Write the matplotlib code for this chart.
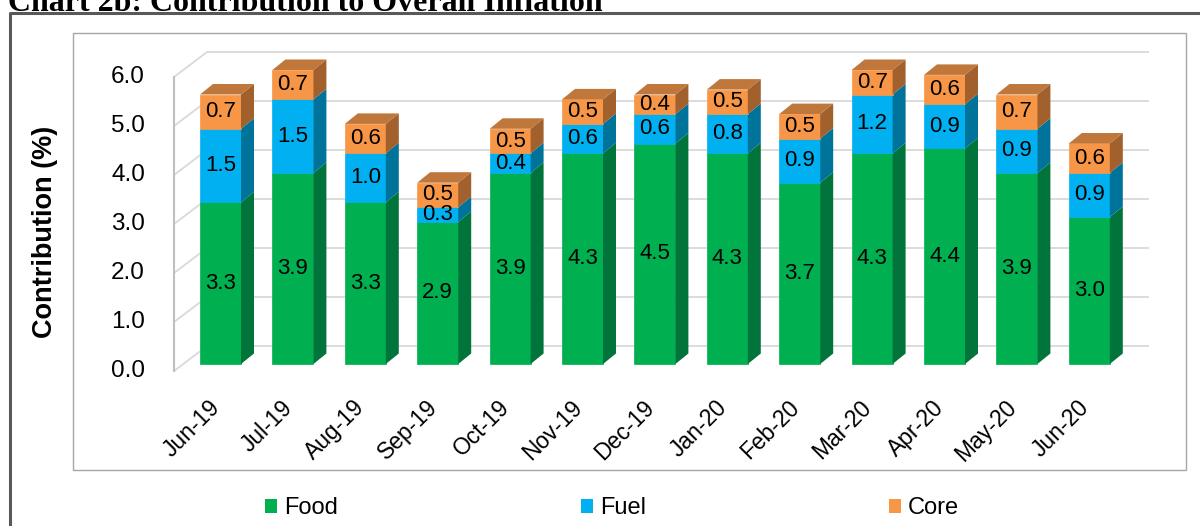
import numpy as np
import matplotlib.pyplot as plt
from matplotlib.patches import Patch, Rectangle
from matplotlib.lines import Line2D

# values (contribution in percentage points)
months = ['Jun-19', 'Jul-19', 'Aug-19', 'Sep-19', 'Oct-19', 'Nov-19', 'Dec-19',
          'Jan-20', 'Feb-20', 'Mar-20', 'Apr-20', 'May-20', 'Jun-20']
food = [3.3, 3.9, 3.3, 2.9, 3.9, 4.3, 4.5, 4.3, 3.7, 4.3, 4.4, 3.9, 3.0]
fuel = [1.5, 1.5, 1.0, 0.3, 0.4, 0.6, 0.6, 0.8, 0.9, 1.2, 0.9, 0.9, 0.9]
core = [0.7, 0.7, 0.6, 0.5, 0.5, 0.5, 0.4, 0.5, 0.5, 0.7, 0.6, 0.7, 0.6]
y_ticks = [0.0, 1.0, 2.0, 3.0, 4.0, 5.0, 6.0]

# (label, values, front, top, side)
series = [
    ('Food', food, '#00B050', '#00963F', '#00743A'),
    ('Fuel', fuel, '#00B0F0', '#0090C4', '#00739A'),
    ('Core', core, '#F79646', '#BF773B', '#A2602C'),
]

plt.rcParams['font.family'] = ['Liberation Sans', 'DejaVu Sans']

W, H = 1200, 526
fig = plt.figure(figsize=(W / 100, H / 100), dpi=100)

# one axes over the whole figure, scaled so 1 category = 72.4 px, 1 % = 49 px
SX, SY = 72.4, 49.0
X0, Y0 = 220.5, 364.0
ax = fig.add_axes([0, 0, 1, 1])
ax.set_xlim(-X0 / SX, (W - X0) / SX)
ax.set_ylim((Y0 - H) / SY, Y0 / SY)
ax.axis('off')

ymax = y_ticks[-1]
x = np.arange(len(months))

# fake 3d walls (oblique projection)
front_dx, front_dy = -9 / SX, -7 / SY
back_dx, back_dy = 24 / SX, 18 / SY
wall_left = (183 - X0) / SX
wall_right = (1125 - X0) / SX

for v in y_ticks:
    ax.plot([wall_left + front_dx, wall_left + back_dx, wall_right + back_dx],
            [v + front_dy, v + back_dy, v + back_dy],
            color='#d9d9d9', lw=1.3, zorder=1, solid_capstyle='butt')
    ax.text(wall_left + front_dx - 29 / SX, v + front_dy, f'{v:.1f}',
            ha='right', va='center', fontsize=17.5, color='black')
ax.plot([wall_left + front_dx] * 2, [front_dy, ymax + front_dy],
        color='#bfbfbf', lw=1.5, zorder=1)

# bars
bw = 41 / SX
bdx, bdy = 13 / SX, 10.5 / SY
bottom = np.zeros(len(months))
for name, vals, c_front, c_top, c_side in series:
    vals = np.array(vals)
    top = np.minimum(bottom + vals, ymax)  # excel clips at the axis max
    ax.bar(x, top - bottom, bottom=bottom, width=bw, color=c_front,
           edgecolor=c_front, lw=0.5, zorder=3, label=name)
    for i in range(len(x)):
        xr = x[i] + bw / 2
        ax.fill([xr, xr + bdx, xr + bdx, xr],
                [bottom[i], bottom[i] + bdy, top[i] + bdy, top[i]],
                color=c_side, lw=0, zorder=3)
        ax.text(x[i], (bottom[i] + top[i]) / 2, f'{vals[i]:.1f}',
                ha='center', va='center', fontsize=16, color='black', zorder=5)
    last_top, last_col = top, c_top
    bottom = top

for i in range(len(x)):
    xl, xr = x[i] - bw / 2, x[i] + bw / 2
    t = last_top[i]
    ax.fill([xl, xr, xr + bdx, xl + bdx], [t, t, t + bdy, t + bdy],
            color=last_col, lw=0, zorder=3)

# category labels
for i, m in enumerate(months):
    ax.text(x[i] - 4 / SX, (Y0 - 404) / SY, m, rotation=45, rotation_mode='anchor',
            ha='right', va='center', fontsize=16.5, color='black')

ax.text(45 / W, 1 - 232 / H, 'Contribution (%)', transform=fig.transFigure,
        rotation=90, ha='center', va='center', fontsize=19.5, fontweight='bold')

handles = [Patch(facecolor=s[2], edgecolor='none') for s in series]
ax.legend(handles, [s[0] for s in series], loc='center',
          bbox_to_anchor=(612 / W, 1 - 508 / H), bbox_transform=fig.transFigure,
          ncol=3, frameon=False, fontsize=17, handlelength=0.5, handleheight=0.55,
          handletextpad=0.3, columnspacing=10.3)

# frames
fig.patches.append(Rectangle((73 / W, 1 - 470 / H), (1186 - 73) / W, (470 - 33) / H,
                             transform=fig.transFigure, fill=False,
                             edgecolor='#a6a6a6', lw=1.0))
fig.lines.append(Line2D([10 / W, 10 / W, 1.0], [0.0, 1 - 13 / H, 1 - 13 / H],
                        transform=fig.transFigure, color='#595959', lw=2.2))

# title is cut by the top edge in the source image as well
fig.text(8 / W, 1 - 11 / H, 'Chart 2b: Contribution to Overall Inflation',
         family=['Liberation Serif', 'DejaVu Serif'], fontweight='bold',
         fontsize=23, ha='left', va='baseline')

fig.savefig('out.png', dpi=100)
